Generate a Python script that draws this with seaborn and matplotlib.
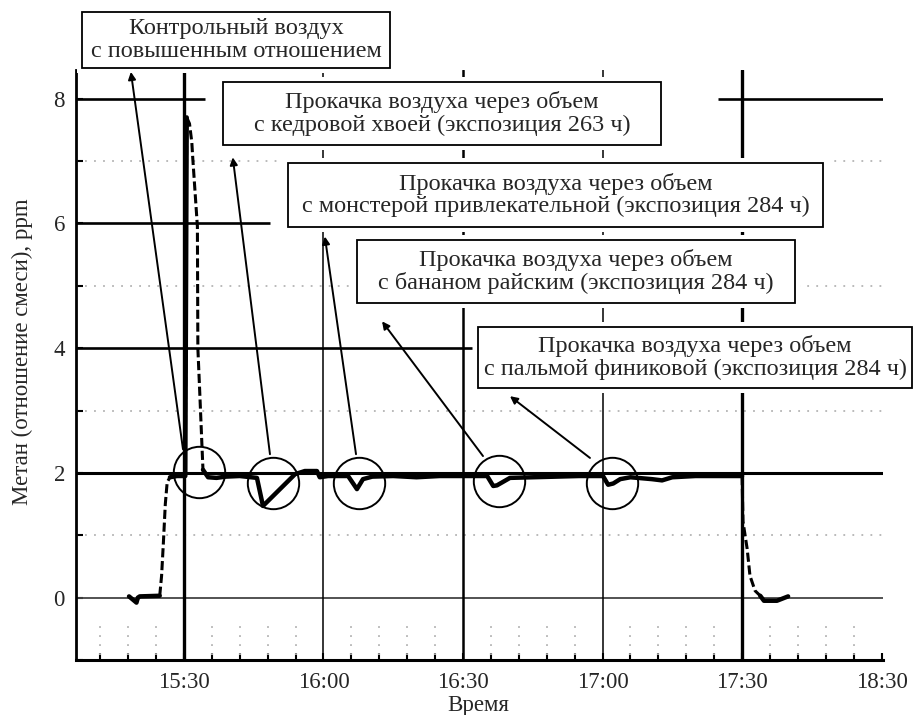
import numpy as np
import pandas as pd
import matplotlib
matplotlib.use("Agg")
import matplotlib.pyplot as plt
from matplotlib.patches import Rectangle
import seaborn as sns

# ---------------- data (minutes after 15:00, methane ppm) ----------------
time_min = [18.2, 19.8, 20.1, 20.5, 24.8,
            25.2, 25.6, 26.0, 26.4, 27.0,
            28.5, 30.3,
            30.6, 31.2, 31.7, 31.9, 32.9, 33.0, 33.4, 33.9, 34.1,
            35.2, 37.0, 39.0, 42.0, 45.7,
            47.0, 53.9, 56.0, 58.6, 59.2, 61.0,
            65.3, 67.2, 68.5, 70.5,
            75.0, 80.0, 85.0, 90.0, 95.2,
            96.5, 97.3, 100.1, 105.0, 110.0, 115.0, 120.1,
            121.2, 122.3, 123.8, 126.0, 130.6, 132.8, 135.0, 140.0, 145.0, 150.0,
            150.2, 151.1, 151.7, 152.8, 153.9,
            154.7, 157.5, 159.9]
methane = [0.02, -0.08, 0.0, 0.02, 0.03,
           0.35, 0.9, 1.5, 1.85, 1.93,
           1.95, 1.95,
           7.7, 7.6, 7.3, 7.05, 5.95, 4.0, 3.3, 2.4, 2.05,
           1.93, 1.92, 1.94, 1.95, 1.92,
           1.47, 1.98, 2.03, 2.03, 1.93, 1.95,
           1.95, 1.74, 1.9, 1.94,
           1.95, 1.93, 1.95, 1.95, 1.95,
           1.79, 1.8, 1.92, 1.93, 1.94, 1.95, 1.95,
           1.81, 1.83, 1.9, 1.93, 1.9, 1.88, 1.93, 1.95, 1.95, 1.95,
           1.22, 0.78, 0.35, 0.11, 0.03,
           -0.05, -0.05, 0.02]

# index ranges of the trace: steep transitions are drawn dashed
solid_ranges = [(0, 5), (9, 13), (20, 58), (62, 66)]
dashed_ranges = [(4, 10), (11, 21), (57, 63)]

# circled events (centre time, centre value)
circle_t = [33.2, 49.1, 67.6, 97.7, 122.0]
circle_v = [2.02, 1.84, 1.84, 1.87, 1.84]

# leader lines: (top time, top value) -> (bottom time, bottom value)
leader_top_t = [18.6, 40.5, 60.3, 72.6, 100.1]
leader_top_v = [8.43, 7.06, 5.79, 4.43, 3.23]
leader_bot_t = [29.8, 48.5, 67.0, 94.3, 117.3]
leader_bot_v = [2.38, 2.30, 2.30, 2.27, 2.24]

box_texts = ["Контрольный воздух\nс повышенным отношением",
             "Прокачка воздуха через объем\nс кедровой хвоей (экспозиция 263 ч)",
             "Прокачка воздуха через объем\nс монстерой привлекательной (экспозиция 284 ч)",
             "Прокачка воздуха через объем\nс бананом райским (экспозиция 284 ч)",
             "Прокачка воздуха через объем\nс пальмой финиковой (экспозиция 284 ч)"]

xtick_pos = [30, 60, 90, 120, 150, 180]
xtick_labels = ["15:30", "16:00", "16:30", "17:00", "17:30", "18:30"]
ytick_pos = [0, 2, 4, 6, 8]
ytick_labels = ["0", "2", "4", "6", "8"]
x_title = "Время"
y_title = "Метан (отношение смеси), ppm"

# ---------------- style ----------------
sns.set_theme(style="white")
plt.rcParams["font.family"] = ["Liberation Serif", "DejaVu Serif"]
plt.rcParams["axes.unicode_minus"] = False

W, H = 914, 715
fig = plt.figure(figsize=(W / 100, H / 100), dpi=100)
ax = fig.add_axes([76 / W, 1 - 660 / H, (883 - 76) / W, (660 - 70) / H])
ax.set_facecolor("white")
XMIN, XMAX = 6.8, 180.3
ax.set_xlim(XMIN, XMAX)
ax.set_ylim(-1, 8.46)

# dotted light grid
for yv in [1, 3, 5, 7]:
    ax.axhline(yv, color="#b4b4b4", lw=1.3, ls=(0, (1, 4)), zorder=1)
minor_x = [m for m in np.arange(12, 180, 6) if m % 30 != 0]
ax.vlines(minor_x, -0.92, -0.35, color="#b4b4b4", lw=1.3, ls=(0, (1, 4)), zorder=1)

# solid grid
ax.axhline(0, color="#444444", lw=1.3, zorder=2)
ax.axhline(2, color="black", lw=2.2, zorder=2)
ax.hlines(4, XMIN, 91.9, color="black", lw=1.9, zorder=2)
ax.hlines(6, XMIN, 48.5, color="black", lw=1.9, zorder=2)
ax.hlines(8, XMIN, 34.5, color="black", lw=1.9, zorder=2)
ax.hlines(8, 144.8, XMAX, color="black", lw=1.9, zorder=2)
for xv, lw in zip([30, 60, 90, 120, 150], [2.4, 1.1, 1.8, 1.1, 2.4]):
    ax.axvline(xv, color="black", lw=lw, zorder=2)

# trace
df = pd.DataFrame({"t": time_min, "ch4": methane})
for a, b in solid_ranges:
    sns.lineplot(data=df.iloc[a:b], x="t", y="ch4", sort=False, estimator=None,
                 color="black", lw=3.2, ax=ax, zorder=4)
for a, b in dashed_ranges:
    sns.lineplot(data=df.iloc[a:b], x="t", y="ch4", sort=False, estimator=None,
                 color="black", lw=2.2, ax=ax, zorder=4, dashes=(3, 1.2))

# circles
ax.plot(circle_t, circle_v, ls="none", marker="o", ms=37, mfc="none",
        mec="black", mew=1.4, zorder=5)

# leaders
for tt, tv, bt, bv in zip(leader_top_t, leader_top_v, leader_bot_t, leader_bot_v):
    ax.annotate("", xy=(tt, tv), xytext=(bt, bv),
                arrowprops=dict(arrowstyle="-|>", lw=1.4, color="black",
                                mutation_scale=11, shrinkA=0, shrinkB=0),
                zorder=5)

# axes decoration
for s in ["top", "right"]:
    ax.spines[s].set_visible(False)
ax.spines["left"].set_linewidth(2.0)
ax.spines["bottom"].set_linewidth(2.2)
ax.spines["left"].set_color("black")
ax.spines["bottom"].set_color("black")
ax.set_xticks(xtick_pos)
ax.set_xticklabels(xtick_labels)
ax.set_xticks(minor_x, minor=True)
ax.set_yticks(ytick_pos)
ax.set_yticklabels(ytick_labels)
ax.set_yticks([-1, 1, 3, 5, 7], minor=True)
ax.tick_params(axis="x", which="both", direction="in", length=5, width=1.5,
               color="black", labelsize=16.5, pad=9, bottom=True)
ax.tick_params(axis="y", which="both", direction="in", length=5, width=1.5,
               color="black", labelsize=16.5, pad=8, left=True)
ax.set_xlabel("")
ax.set_ylabel("")
ax.grid(False)
fig.text(478 / W, 1 - 706 / H, x_title, ha="center", va="center", fontsize=16.5)
fig.text(22 / W, 1 - 352 / H, y_title, ha="center", va="center",
         rotation=90, fontsize=16.5)

# annotation boxes (pixel layout)
boxes_px = [(82, 12, 390, 68), (223, 82, 661, 145), (288, 163, 823, 227),
            (357, 240, 795, 303), (478, 327, 912, 388)]
PAD = 5
for (x0, y0, x1, y1), txt in zip(boxes_px, box_texts):
    fig.add_artist(Rectangle(((x0 - PAD) / W, 1 - (y1 + PAD) / H),
                             (x1 - x0 + 2 * PAD) / W, (y1 - y0 + 2 * PAD) / H,
                             transform=fig.transFigure, facecolor="white",
                             edgecolor="none", zorder=10))
    fig.add_artist(Rectangle((x0 / W, 1 - y1 / H), (x1 - x0) / W, (y1 - y0) / H,
                             transform=fig.transFigure, facecolor="white",
                             edgecolor="black", lw=1.3, zorder=11))
    fig.text((x0 + x1) / 2 / W, 1 - (y0 + y1) / 2 / H, txt, ha="center",
             va="center", multialignment="center", fontsize=17.5,
             linespacing=1.1, zorder=12)

fig.savefig("out.png", dpi=100, facecolor="white")
